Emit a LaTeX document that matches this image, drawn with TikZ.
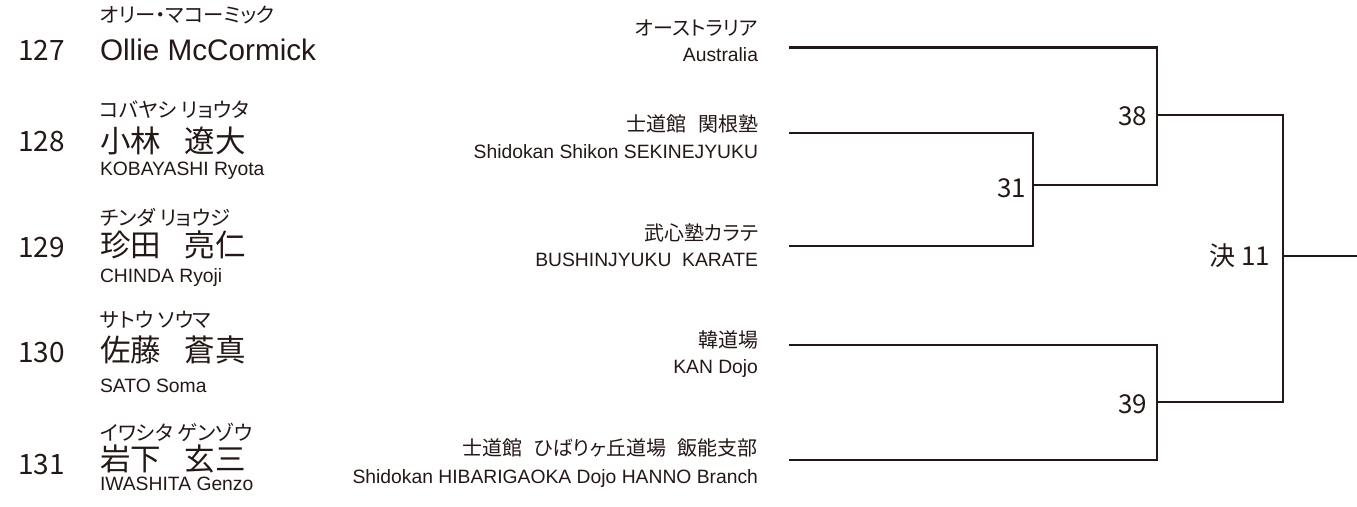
\documentclass[tikz,border=0pt]{standalone}
\usepackage{fontspec}
\setmainfont{Noto Sans CJK JP}[RawFeature=+palt]
\newfontfamily\lat{Liberation Sans}
\newfontfamily\numf{Noto Sans CJK JP}
\definecolor{ink}{RGB}{35,24,21}
\newcommand{\jsp}{\kern 12pt}
\newcommand{\ksp}{\kern 24pt}
\begin{document}
\begin{tikzpicture}[x=1pt,y=-1pt,
  every node/.style={inner sep=0pt,outer sep=0pt,text=ink},
  num/.style={anchor=west,font=\numf\fontsize{28}{30}\selectfont},
  kana/.style={anchor=west,font=\fontsize{20.4}{22}\selectfont},
  bigname/.style={anchor=west,font=\fontsize{30.5}{32}\selectfont},
  latname/.style={anchor=base west,font=\lat\fontsize{29.7}{31}\selectfont},
  roman/.style={anchor=base west,font=\lat\fontsize{19.3}{21}\selectfont},
  teamjp/.style={anchor=east,font=\fontsize{20}{22}\selectfont},
  teamen/.style={anchor=base east,font=\lat\fontsize{19.3}{21}\selectfont},
  matchno/.style={anchor=east,font=\numf\fontsize{26}{28}\selectfont},
  bracket/.style={draw=ink,line width=2.2pt,line cap=rect,line join=miter}]
\useasboundingbox (0,0) rectangle (1357,506);

% left: players
\node[kana]    (k127) at (100,15)  {オリー・マコーミック};
\node[num]     (n127) at (18,50)   {127};
\node[latname] (p127) at (100,60)  {Ollie McCormick};

\node[kana]    (k128) at (100,110) {コバヤシ リョウタ};
\node[num]     (n128) at (18,142)  {128};
\node[bigname] (p128) at (100,141) {小林\ksp 遼大};
\node[roman]   (r128) at (100,175) {KOBAYASHI Ryota};

\node[kana]    (k129) at (100,218) {チンダ リョウジ};
\node[num]     (n129) at (18,248)  {129};
\node[bigname] (p129) at (100,245) {珍田\ksp 亮仁};
\node[roman]   (r129) at (100,282) {CHINDA Ryoji};

\node[kana]    (k130) at (100,320) {サトウ ソウマ};
\node[num]     (n130) at (18,353)  {130};
\node[bigname] (p130) at (100,350) {佐藤\ksp 蒼真};
\node[roman]   (r130) at (100,392) {SATO Soma};

\node[kana]    (k131) at (100,432) {イワシタ ゲンゾウ};
\node[num]     (n131) at (18,465)  {131};
\node[bigname] (p131) at (100,459) {岩下\ksp 玄三};
\node[roman]   (r131) at (100,490) {IWASHITA Genzo};

% middle: teams
\node[teamjp] (j1) at (758,28)  {オーストラリア};
\node[teamen] (e1) at (758,61)  {Australia};
\node[teamjp] (j2) at (758,124) {士道館\jsp 関根塾};
\node[teamen] (e2) at (758,158) {Shidokan Shikon SEKINEJYUKU};
\node[teamjp] (j3) at (758,233) {武心塾カラテ};
\node[teamen] (e3) at (758,266) {BUSHINJYUKU\ \ KARATE};
\node[teamjp] (j4) at (758,340) {韓道場};
\node[teamen] (e4) at (758,373) {KAN Dojo};
\node[teamjp] (j5) at (758,448) {士道館\jsp ひばりヶ丘道場\jsp 飯能支部};
\node[teamen] (e5) at (758,483) {Shidokan HIBARIGAOKA Dojo HANNO Branch};

% bracket coordinates
\coordinate (s1) at (790,47.5);
\coordinate (s2) at (790,133);
\coordinate (s3) at (790,246);
\coordinate (s4) at (790,345);
\coordinate (s5) at (790,460);
\coordinate (m31) at (1033,189.5);
\coordinate (m38) at (1157,115);
\coordinate (m39) at (1157,402);
\coordinate (m11) at (1283,256);
\coordinate (out) at (1357,256);

% match labels
\node[matchno] (l31) at (1026,188) {31};
\node[matchno] (l38) at (1147,116) {38};
\node[matchno] (l39) at (1147,404) {39};
\node[matchno] (l11) at (1270,256) {決 11};

% connectors
\draw[bracket] (s2) -| (m31) |- (s3);
\draw[bracket] (s1) -| (m38) |- (1033,185);
\draw[bracket] (s4) -| (m39) |- (s5);
\draw[bracket] (m38) -| (m11) |- (m39);
\draw[bracket] (m11) -- (out);
\end{tikzpicture}
\end{document}
